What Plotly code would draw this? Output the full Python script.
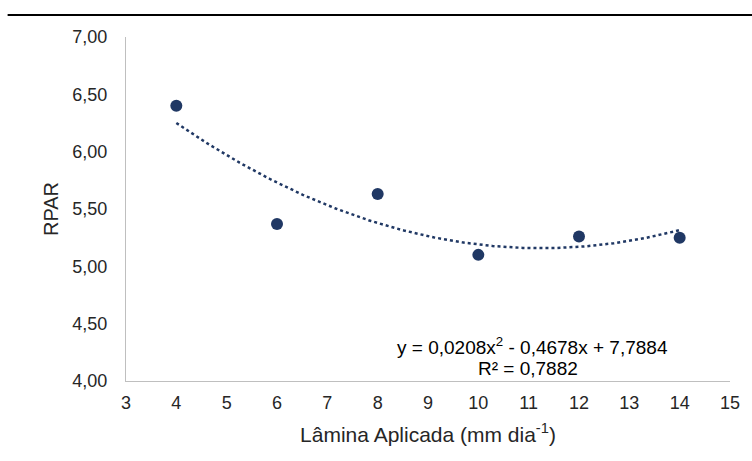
import plotly.graph_objects as go
import numpy as np

# Data
lamina = [4, 6, 8, 10, 12, 14]
rpar = [6.40, 5.37, 5.63, 5.10, 5.26, 5.25]
coef = [0.0208, -0.4678, 7.7884]  # quadratic trendline shown on chart
eq_line1 = "y = 0,0208x<sup>2</sup> - 0,4678x + 7,7884"
eq_line2 = "R² = 0,7882"
x_title = "Lâmina Aplicada (mm dia<sup>-1</sup>)"
y_title = "RPAR"

xt = np.linspace(min(lamina), max(lamina), 200)
yt = np.polyval(coef, xt)

navy = "#203864"
fig = go.Figure()
fig.add_trace(go.Scatter(x=xt, y=yt, mode="lines",
                         line=dict(color=navy, width=2.5, dash="dot"),
                         hoverinfo="skip", showlegend=False))
fig.add_trace(go.Scatter(x=lamina, y=rpar, mode="markers",
                         marker=dict(color=navy, size=12),
                         showlegend=False))

font_fam = "Liberation Sans, Arial, sans-serif"
txt = "#262626"
fig.update_layout(
    width=752, height=461,
    margin=dict(l=126, r=19, t=37, b=80),
    paper_bgcolor="white", plot_bgcolor="white",
    separators=", ",
    font=dict(family=font_fam, color=txt, size=18),
    xaxis=dict(range=[3, 15], dtick=1, tick0=3, showgrid=False, zeroline=False,
               showline=True, linecolor="#BFBFBF", linewidth=1, ticks="",
               ticklabelstandoff=5,
               tickfont=dict(size=18, color=txt),
               title=dict(text=x_title, font=dict(size=21, color=txt), standoff=15)),
    yaxis=dict(range=[4, 7], dtick=0.5, tickformat=".2f", showgrid=False, zeroline=False,
               showline=True, linecolor="#BFBFBF", linewidth=1, ticks="",
               ticklabelstandoff=14,
               tickfont=dict(size=18, color=txt),
               title=dict(text=y_title, font=dict(size=20, color=txt), standoff=8)),
    shapes=[dict(type="line", xref="paper", yref="paper",
                 x0=-0.196, x1=1.04, y0=1.064, y1=1.064,
                 line=dict(color="black", width=2))],
    annotations=[
        dict(x=11.07, y=4.305, xref="x", yref="y", text=eq_line1,
             showarrow=False, align="center",
             font=dict(size=19, color="black", family=font_fam)),
        dict(x=10.99, y=4.113, xref="x", yref="y", text=eq_line2,
             showarrow=False, align="center",
             font=dict(size=19, color="black", family=font_fam)),
    ],
)
fig.write_html("out.html")
